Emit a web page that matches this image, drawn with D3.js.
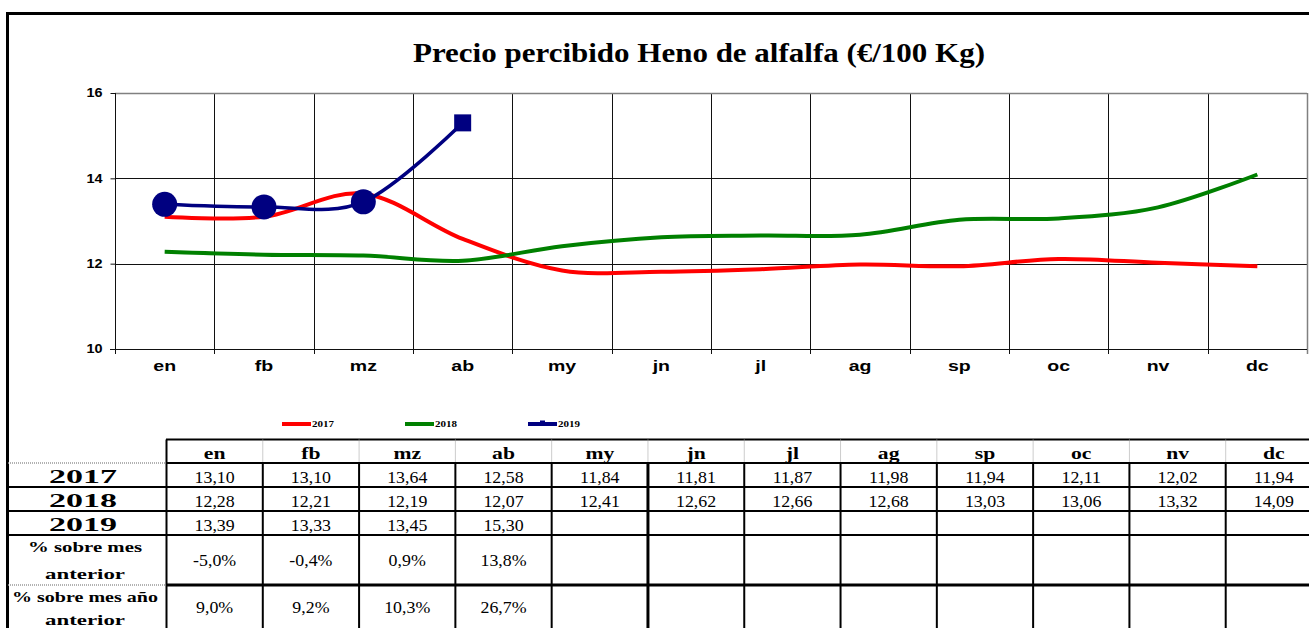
<!DOCTYPE html>
<html>
<head>
<meta charset="utf-8">
<script src="https://cdn.jsdelivr.net/npm/d3@7/dist/d3.min.js"></script>
<style>
  html, body { margin: 0; padding: 0; background: #fff; }
  svg { display: block; }
</style>
</head>
<body>
<script>
// ---- data ----
const months = ["en", "fb", "mz", "ab", "my", "jn", "jl", "ag", "sp", "oc", "nv", "dc"];
const years = ["2017", "2018", "2019"];
const values2017 = [13.10, 13.10, 13.64, 12.58, 11.84, 11.81, 11.87, 11.98, 11.94, 12.11, 12.02, 11.94];
const values2018 = [12.28, 12.21, 12.19, 12.07, 12.41, 12.62, 12.66, 12.68, 13.03, 13.06, 13.32, 14.09];
const values2019 = [13.39, 13.33, 13.45, 15.30];
const pctPrevMonth = ["-5,0%", "-0,4%", "0,9%", "13,8%"];
const pctPrevYear = ["9,0%", "9,2%", "10,3%", "26,7%"];
const yTicks = [10, 12, 14, 16];
const title = "Precio percibido Heno de alfalfa (€/100 Kg)";
const pctLabels = [["% sobre mes", "anterior"], ["% sobre mes año", "anterior"]];

const W = 1309, H = 628;
const SERIF = "'Liberation Serif', 'Times New Roman', serif";
const SANS = "'Liberation Sans', Arial, sans-serif";
const colors = { "2017": "#ff0000", "2018": "#008000", "2019": "#000080" };

const svg = d3.select("body").append("svg").attr("width", W).attr("height", H);
svg.append("rect").attr("width", W).attr("height", H).attr("fill", "#fff");

// widen text horizontally by factor k
function stretch(sel, k) {
  sel.each(function () {
    const w = this.getComputedTextLength();
    this.setAttribute("textLength", w * k);
    this.setAttribute("lengthAdjust", "spacingAndGlyphs");
  });
}
function fitWidth(sel, w) {
  sel.attr("textLength", w).attr("lengthAdjust", "spacingAndGlyphs");
}

const comma = d3.formatLocale({ decimal: ",", thousands: ".", grouping: [3], currency: ["", "€"] }).format(".2f");

// ---- chart frame ----
svg.append("line").attr("x1", 6).attr("x2", W).attr("y1", 13.5).attr("y2", 13.5)
  .attr("stroke", "#000").attr("stroke-width", 3);
svg.append("line").attr("x1", 7.5).attr("x2", 7.5).attr("y1", 12).attr("y2", H)
  .attr("stroke", "#000").attr("stroke-width", 3);

svg.append("text").attr("x", 699).attr("y", 62).attr("text-anchor", "middle")
  .attr("font-family", SERIF).attr("font-weight", "bold").attr("font-size", 27)
  .text(title).call(fitWidth, 572);

// ---- plot ----
const plot = { left: 115, right: 1307, top: 93, bottom: 349 };
const x = d3.scaleBand().domain(months).range([plot.left, plot.right]);
const y = d3.scaleLinear().domain([10, 16]).range([plot.bottom, plot.top]);
const cx = m => x(m) + x.bandwidth() / 2;

const g = svg.append("g");
// horizontal gridlines
g.selectAll("line.hg").data(yTicks.filter(t => t > 10 && t < 16)).join("line")
  .attr("x1", plot.left).attr("x2", plot.right)
  .attr("y1", d => Math.round(y(d)) + 0.5).attr("y2", d => Math.round(y(d)) + 0.5)
  .attr("stroke", "#111").attr("stroke-width", 1);
// vertical gridlines between months (with tick marks below axis)
g.selectAll("line.vg").data(months.slice(1)).join("line")
  .attr("x1", d => Math.round(x(d)) + 0.5).attr("x2", d => Math.round(x(d)) + 0.5)
  .attr("y1", plot.top).attr("y2", plot.bottom + 5)
  .attr("stroke", "#111").attr("stroke-width", 1);
// plot border top / right
g.append("line").attr("x1", plot.left).attr("x2", plot.right)
  .attr("y1", Math.round(y(16)) + 0.5).attr("y2", Math.round(y(16)) + 0.5)
  .attr("stroke", "#808080").attr("stroke-width", 1.5);
g.append("line").attr("x1", plot.right + 0.5).attr("x2", plot.right + 0.5)
  .attr("y1", plot.top).attr("y2", plot.bottom + 5)
  .attr("stroke", "#808080").attr("stroke-width", 1.5);

// axes
const yAxis = d3.axisLeft(y).tickValues(yTicks).tickSize(5).tickPadding(8).tickFormat(d3.format("d"));
const ya = svg.append("g").attr("transform", `translate(${plot.left + 0.5},0)`).call(yAxis);
ya.select(".domain").attr("stroke", "#111").attr("d", `M0,${plot.top}V${plot.bottom + 5}`);
ya.selectAll(".tick line").attr("stroke", "#111");
ya.selectAll(".tick text").attr("font-family", SANS).attr("font-weight", "bold")
  .attr("font-size", 12).attr("fill", "#000").call(stretch, 1.2);

const xa = svg.append("g").attr("transform", `translate(0,${Math.round(plot.bottom) + 0.5})`)
  .call(d3.axisBottom(x).tickSize(0).tickPadding(14));
xa.select(".domain").attr("stroke", "#111").attr("d", `M${plot.left - 5},0H${plot.right}`);
xa.selectAll(".tick text").attr("font-family", SANS).attr("font-weight", "bold")
  .attr("font-size", 15).attr("fill", "#000").attr("dy", "0.5em").call(stretch, 1.3);

// series
const line = d3.line().x((d, i) => cx(months[i])).y(d => y(d)).curve(d3.curveCardinal.tension(0));
const series = [["2017", values2017], ["2018", values2018], ["2019", values2019]];
svg.append("g").selectAll("path").data(series).join("path")
  .attr("d", d => line(d[1])).attr("fill", "none")
  .attr("stroke", d => colors[d[0]]).attr("stroke-width", d => d[0] === "2019" ? 3.5 : 4)
  .attr("stroke-linejoin", "round");

// 2019 markers: circles, last point square
const mk = svg.append("g").attr("fill", colors["2019"]);
mk.selectAll("circle").data(values2019.slice(0, -1)).join("circle")
  .attr("cx", (d, i) => cx(months[i])).attr("cy", d => y(d)).attr("r", 12.5);
const lastI = values2019.length - 1;
mk.append("rect").attr("x", cx(months[lastI]) - 8.5).attr("y", y(values2019[lastI]) - 8.5)
  .attr("width", 17).attr("height", 17);

// legend
const legend = svg.append("g").selectAll("g").data(years).join("g")
  .attr("transform", (d, i) => `translate(${282 + i * 123},424)`);
legend.append("line").attr("x1", 0).attr("x2", 29).attr("stroke", d => colors[d]).attr("stroke-width", 4);
legend.filter(d => d === "2019").append("rect").attr("x", 12).attr("y", -3.5).attr("width", 5).attr("height", 5)
  .attr("fill", colors["2019"]);
legend.append("text").attr("x", 30).attr("y", 3).attr("font-family", SERIF).attr("font-weight", "bold")
  .attr("font-size", 9).text(d => d).call(fitWidth, 22);

// ---- table ----
const tx = d3.scaleBand().domain(months).range([166.5, 1322]);
const tcx = m => tx(m) + tx.bandwidth() / 2;
const rowY = [439.5, 463, 487, 511, 535, 585]; // header top, then row dividers
const tab = svg.append("g");

// header top border
tab.append("line").attr("x1", 166).attr("x2", W).attr("y1", rowY[0]).attr("y2", rowY[0])
  .attr("stroke", "#000").attr("stroke-width", 2);
// dotted separators in header
tab.selectAll("line.hs").data(months.slice(1)).join("line")
  .attr("x1", d => tx(d)).attr("x2", d => tx(d)).attr("y1", rowY[0]).attr("y2", rowY[1])
  .attr("stroke", "#999").attr("stroke-width", 1).attr("stroke-dasharray", "1,1");
// header bottom: dotted on label column, solid across months
tab.append("line").attr("x1", 8).attr("x2", 166).attr("y1", rowY[1]).attr("y2", rowY[1])
  .attr("stroke", "#999").attr("stroke-width", 1.5).attr("stroke-dasharray", "1,1");
tab.append("line").attr("x1", 166).attr("x2", W).attr("y1", rowY[1]).attr("y2", rowY[1])
  .attr("stroke", "#000").attr("stroke-width", 2);
// row separators
[rowY[2], rowY[3], rowY[4]].forEach(yy => {
  tab.append("line").attr("x1", 8).attr("x2", W).attr("y1", yy).attr("y2", yy)
    .attr("stroke", "#000").attr("stroke-width", 2);
});
tab.append("line").attr("x1", 8).attr("x2", 166).attr("y1", rowY[5]).attr("y2", rowY[5])
  .attr("stroke", "#999").attr("stroke-width", 1.5).attr("stroke-dasharray", "1,1");
tab.append("line").attr("x1", 166).attr("x2", W).attr("y1", rowY[5]).attr("y2", rowY[5])
  .attr("stroke", "#000").attr("stroke-width", 3);
// vertical lines
tab.append("line").attr("x1", 166.5).attr("x2", 166.5).attr("y1", rowY[0]).attr("y2", H)
  .attr("stroke", "#000").attr("stroke-width", 2);
tab.selectAll("line.dv").data(months.slice(1)).join("line")
  .attr("x1", d => tx(d)).attr("x2", d => tx(d)).attr("y1", rowY[1]).attr("y2", H)
  .attr("stroke", "#000").attr("stroke-width", d => d === "jn" ? 3 : 2);

// header labels
tab.selectAll("text.hd").data(months).join("text")
  .attr("x", d => tcx(d)).attr("y", 459).attr("text-anchor", "middle")
  .attr("font-family", SERIF).attr("font-weight", "bold").attr("font-size", 16)
  .text(d => d).call(stretch, 1.35);

// year rows
const rowData = [values2017, values2018, values2019];
const baselines = [483, 507, 531];
years.forEach((yr, r) => {
  tab.append("text").attr("x", 83).attr("y", baselines[r]).attr("text-anchor", "middle")
    .attr("font-family", SERIF).attr("font-weight", "bold").attr("font-size", 18)
    .text(yr).call(fitWidth, 68);
  tab.selectAll(null).data(rowData[r]).join("text")
    .attr("x", (d, i) => tcx(months[i])).attr("y", baselines[r]).attr("text-anchor", "middle")
    .attr("font-family", SERIF).attr("font-size", 17)
    .text(d => comma(d)).call(stretch, 1.05);
});

// percentage rows
const pctRows = [pctPrevMonth, pctPrevYear];
const pctLabelBase = [[552, 579], [602, 625]];
const pctLabelWidth = [[114, 80], [146, 80]];
const pctValueBase = [566, 613];
pctRows.forEach((vals, r) => {
  pctLabels[r].forEach((t, j) => {
    tab.append("text").attr("x", 85).attr("y", pctLabelBase[r][j]).attr("text-anchor", "middle")
      .attr("font-family", SERIF).attr("font-weight", "bold").attr("font-size", 15)
      .text(t).call(fitWidth, pctLabelWidth[r][j]);
  });
  tab.selectAll(null).data(vals).join("text")
    .attr("x", (d, i) => tcx(months[i])).attr("y", pctValueBase[r]).attr("text-anchor", "middle")
    .attr("font-family", SERIF).attr("font-size", 17)
    .text(d => d).call(stretch, 1.05);
});
</script>
</body>
</html>
